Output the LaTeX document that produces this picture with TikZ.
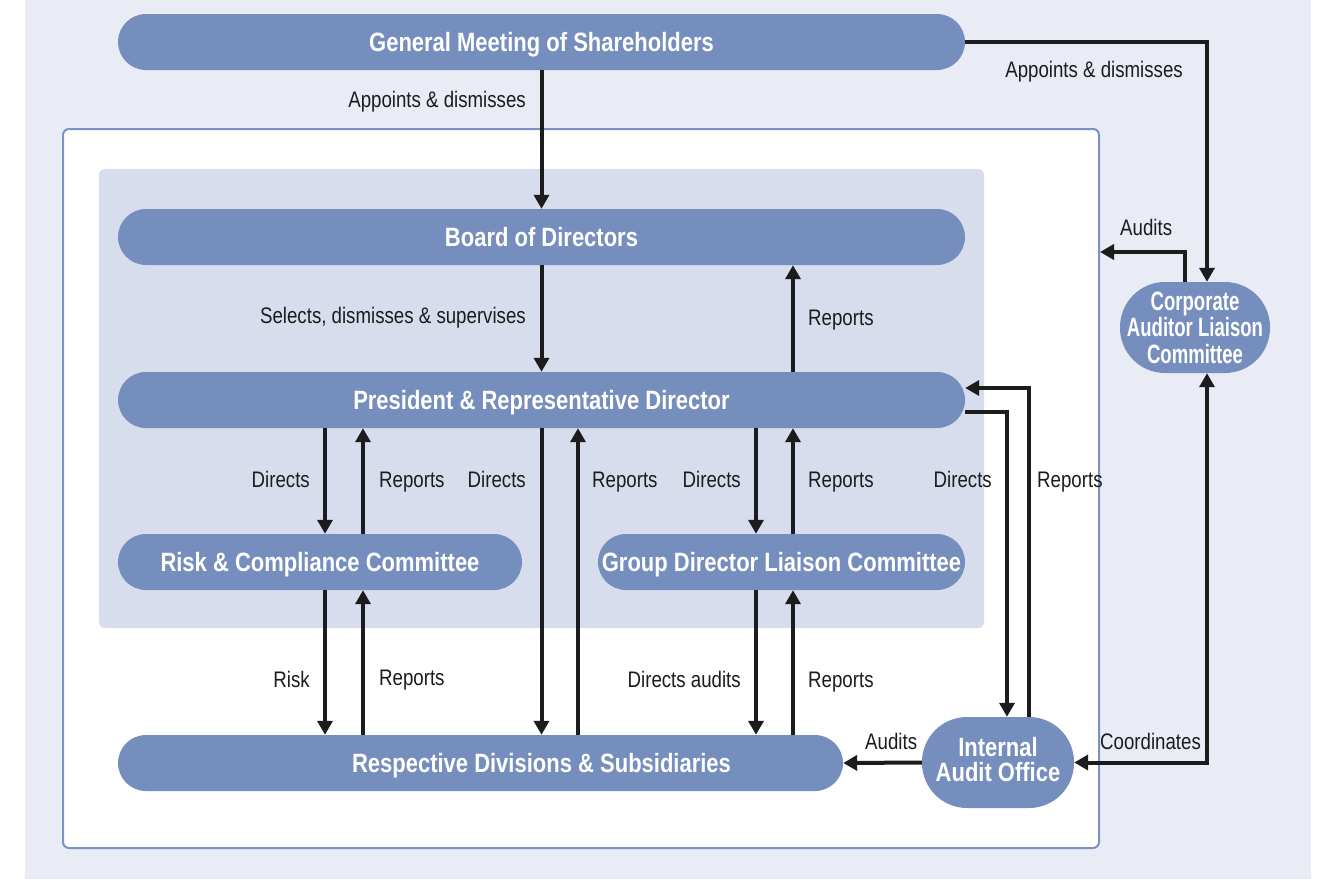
\documentclass[tikz,border=0pt]{standalone}
\usepackage{fontspec}
\setmainfont{Liberation Sans}[FakeStretch=0.83]
\newfontfamily\narrowfont{Liberation Sans}[FakeStretch=0.70]
\usetikzlibrary{arrows.meta}
\definecolor{bgc}{HTML}{E9ECF5}
\definecolor{panelc}{HTML}{D7DDEC}
\definecolor{nodec}{HTML}{758EBD}
\definecolor{framec}{HTML}{7B93C3}
\definecolor{arrc}{HTML}{1C1C1C}
\tikzset{
  box/.style={fill=nodec, draw=none, rounded corners=28pt, minimum height=56pt, inner sep=0pt,
    text=white, text height=19pt, text depth=0pt, font=\fontsize{26.5}{28}\selectfont\bfseries},
  roundbox/.style={fill=nodec, draw=none, rounded corners=45pt, minimum height=91pt, inner sep=0pt,
    text=white, align=center},
  btext/.style={text=white, inner sep=0pt, text height=19pt, text depth=0pt, font=\fontsize{26.5}{28}\selectfont\bfseries},
  lbl/.style={text=arrc, inner sep=0pt, font=\fontsize{22.5}{24}\selectfont},
  arr/.style={draw=arrc, line width=4pt, -{Triangle[width=15pt,length=14pt]}},
  darr/.style={draw=arrc, line width=4pt, {Triangle[width=15pt,length=14pt]}-{Triangle[width=15pt,length=14pt]}}
}
\begin{document}
\begin{tikzpicture}[x=1pt,y=-1pt]
\useasboundingbox (0,0) rectangle (1326,879);
% backgrounds
\fill[bgc] (25,0) rectangle (1311,879);
\node[draw=framec, line width=2pt, fill=white, rounded corners=6pt, minimum width=1036pt, minimum height=719pt, inner sep=0pt] (outer) at (581,488.5) {};
\node[fill=panelc, rounded corners=6pt, minimum width=885pt, minimum height=459pt, inner sep=0pt] (panel) at (541.5,398.5) {};
% nodes
\node[box, minimum width=847pt] (gms) at (541.5,42) {General Meeting of Shareholders};
\node[box, minimum width=847pt] (board) at (541.5,237) {Board of Directors};
\node[box, minimum width=847pt] (pres) at (541.5,400) {President \& Representative Director};
\node[box, minimum width=404pt] (risk) at (320,562) {Risk \& Compliance Committee};
\node[box, minimum width=367pt] (group) at (781.5,562) {Group Director Liaison Committee};
\node[box, minimum width=725pt] (resp) at (480.5,763) {};
\node[btext] (resptext) at (541.5,763) {Respective Divisions \& Subsidiaries};
\node[roundbox, minimum width=152pt, text depth=6pt, font=\fontsize{26.5}{25}\selectfont\bfseries] (iao) at (998,762.5) {Internal\\Audit Office};
\node[roundbox, minimum width=150pt, font=\fontsize{26.5}{26.5}\selectfont\narrowfont\bfseries] (calc) at (1195,327.5) {Corporate\\Auditor Liaison\\Committee};
% connectors
\draw[arr] (gms.south) -- (board.north);
\draw[arr] (gms.east) -| (calc.north -| 1207,0);
\coordinate (auditend) at (outer.east |- 0,252);
\draw[arr] (calc.north -| 1185,0) |- (auditend);
\draw[arr] (board.south) -- (pres.north);
\draw[arr] (pres.north -| 793,0) -- (board.south -| 793,0);
\draw[arr] (pres.south -| 325,0) -- (risk.north -| 325,0);
\draw[arr] (risk.north -| 363,0) -- (pres.south -| 363,0);
\draw[arr] (pres.south -| 541.5,0) -- (resp.north -| 541.5,0);
\draw[arr] (resp.north -| 578,0) -- (pres.south -| 578,0);
\draw[arr] (pres.south -| 756,0) -- (group.north -| 756,0);
\draw[arr] (group.north -| 793,0) -- (pres.south -| 793,0);
\draw[arr] ([yshift=-12pt]pres.east) -| (iao.north -| 1007,0);
\draw[arr] (iao.north -| 1029,0) |- ([yshift=12pt]pres.east);
\draw[arr] (risk.south -| 325,0) -- (resp.north -| 325,0);
\draw[arr] (resp.north -| 363,0) -- (risk.south -| 363,0);
\draw[arr] (group.south -| 756,0) -- (resp.north -| 756,0);
\draw[arr] (resp.north -| 793,0) -- (group.south -| 793,0);
\draw[arr] (iao.west) -- (resp.east);
\draw[darr] (iao.east) -| (calc.south -| 1207,0);
% labels
\node[lbl, anchor=base east] (l1) at (526,107) {Appoints \& dismisses};
\node[lbl, anchor=base east] (l2) at (1183,77) {Appoints \& dismisses};
\node[lbl, anchor=base west] (l3) at (1120,235) {Audits};
\node[lbl, anchor=base east] (l4) at (526,323) {Selects, dismisses \& supervises};
\node[lbl, anchor=base west] (l5) at (808,325) {Reports};
\node[lbl, anchor=base east] (l6) at (310,487) {Directs};
\node[lbl, anchor=base west] (l7) at (379,487) {Reports};
\node[lbl, anchor=base east] (l8) at (526,487) {Directs};
\node[lbl, anchor=base west] (l9) at (592,487) {Reports};
\node[lbl, anchor=base east] (l10) at (741,487) {Directs};
\node[lbl, anchor=base west] (l11) at (808,487) {Reports};
\node[lbl, anchor=base east] (l12) at (992,487) {Directs};
\node[lbl, anchor=base west] (l13) at (1037,487) {Reports};
\node[lbl, anchor=base east] (l14) at (310,687) {Risk};
\node[lbl, anchor=base west] (l15) at (379,685) {Reports};
\node[lbl, anchor=base east] (l16) at (741,687) {Directs audits};
\node[lbl, anchor=base west] (l17) at (808,687) {Reports};
\node[lbl, anchor=base west] (l18) at (865,749) {Audits};
\node[lbl, anchor=base west] (l19) at (1100,749) {Coordinates};
\end{tikzpicture}
\end{document}
